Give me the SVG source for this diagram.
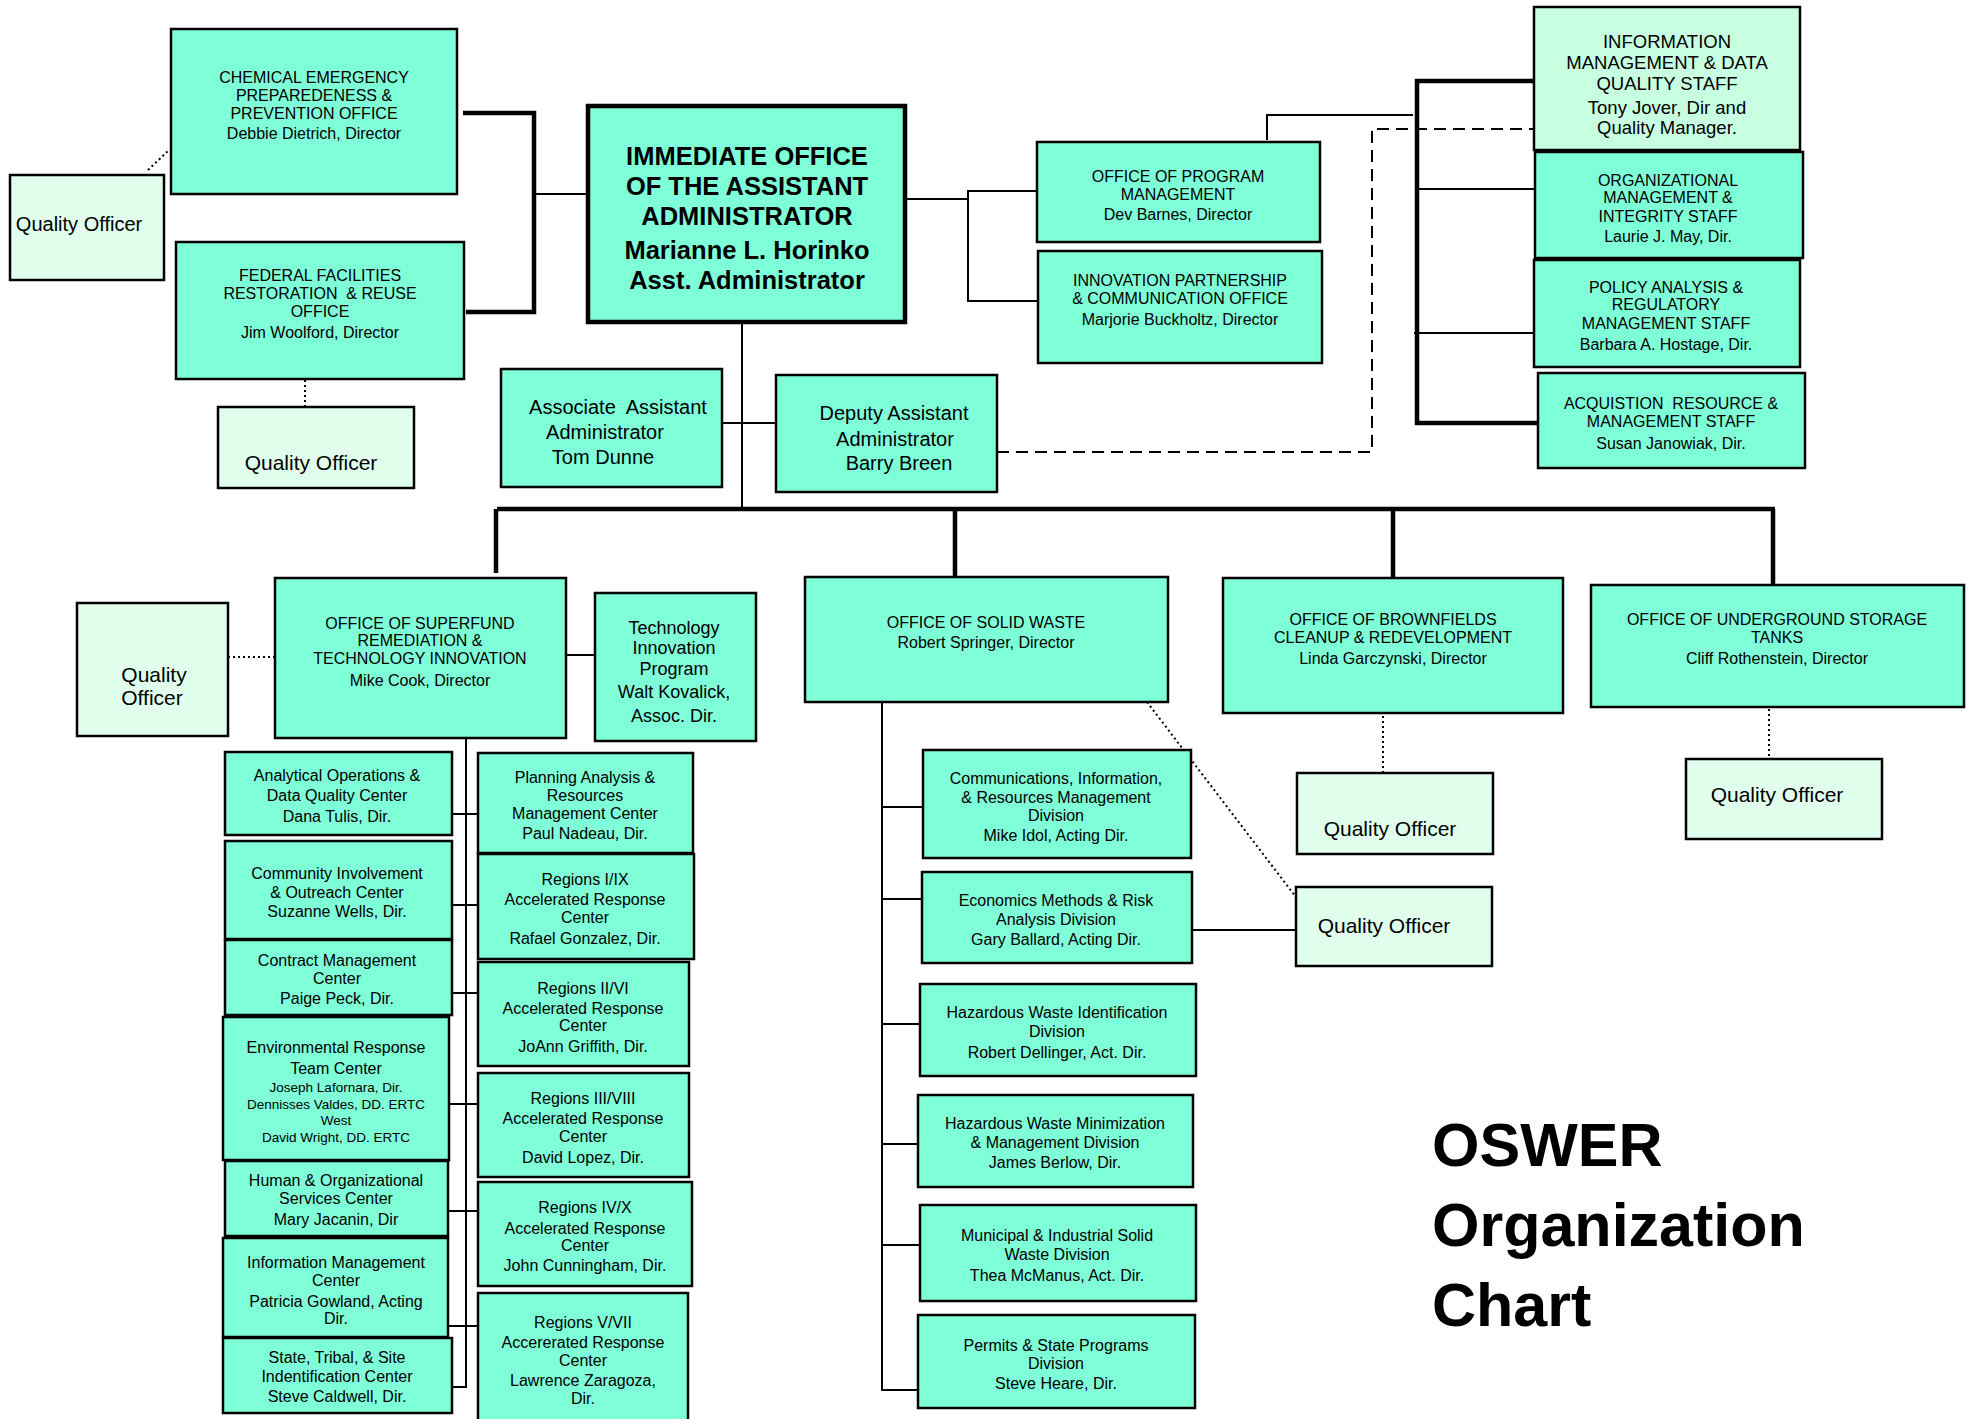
<svg xmlns="http://www.w3.org/2000/svg" width="1975" height="1419" viewBox="0 0 1975 1419">
<style>
.b{fill:#7FFFD8;stroke:#000;stroke-width:2.5}
.q{fill:#E0FFEC;stroke:#000;stroke-width:2.5}
.l{fill:#C8FFE0;stroke:#000;stroke-width:2.5}
text{font-family:"Liberation Sans",Arial,sans-serif;font-size:16px;text-anchor:middle;fill:#000}
.s{font-size:13.5px}
.m{font-size:18px}
.m2{font-size:18.5px}
.big{font-size:20px}
.qt{font-size:21px}
.io{font-size:25.5px;font-weight:bold}
.title{font-size:61px;font-weight:bold;text-anchor:start}
.k{stroke:#000;stroke-width:4.5;fill:none}
.n{stroke:#000;stroke-width:2;fill:none}
.d{stroke:#000;stroke-width:2;fill:none;stroke-dasharray:12 7}
.o{stroke:#000;stroke-width:2;fill:none;stroke-dasharray:2 3}
</style>
<rect width="1975" height="1419" fill="#fff"/>
<g id="connectors">
<path class="k" d="M463 113H534V312H466"/>
<path class="n" d="M534 194H588"/>
<path class="o" d="M148 170L168 151"/>
<path class="o" d="M305 380V407"/>
<path class="n" d="M905 199H968M968 190V302M968 191H1038M968 301H1038"/>
<path class="n" d="M1267 140V115H1413"/>
<path class="k" d="M1534 81H1417V423H1538"/>
<path class="n" d="M1417 189H1534M1414 333H1534"/>
<path class="d" d="M997 452H1372V129H1534"/>
<path class="n" d="M742 322V508M722 423H776"/>
<path class="k" d="M497 509H1775M496 509V573M955 509V578M1393 509V584M1773 509V586"/>
<path class="o" d="M228 657H275"/>
<path class="n" d="M566 655H595"/>
<path class="n" d="M466 735V1387H452M452 814H478M452 905H478M452 993H478M449 1104H478M448 1211H478M448 1326H478"/>
<path class="o" d="M1383 716V773M1769 709V759"/>
<path class="n" d="M882 702V1390H918M882 807H923M882 899H922M882 1024H920M882 1144H918M882 1245H920"/>
<path class="n" d="M1192 930H1297"/>
<path class="o" d="M1147 702L1302 905"/>
</g>
<g id="chem"><rect class="b" x="171" y="29" width="286" height="165"/><text x="314" y="82.5">CHEMICAL EMERGENCY</text><text x="314" y="100.5">PREPAREDENESS &amp;</text><text x="314" y="118.5">PREVENTION OFFICE</text><text x="314" y="138.5">Debbie Dietrich, Director</text></g>
<g id="qo1"><rect class="q" x="10" y="175" width="154" height="105"/><text class="big" x="79" y="231">Quality Officer</text></g>
<g id="fed"><rect class="b" x="176" y="242" width="288" height="137"/><text x="320" y="280.5">FEDERAL FACILITIES</text><text x="320" y="298.5" xml:space="preserve">RESTORATION  &amp; REUSE</text><text x="320" y="316.5">OFFICE</text><text x="320" y="337.5">Jim Woolford, Director</text></g>
<g id="qo2"><rect class="q" x="218" y="407" width="196" height="81"/><text class="qt" x="311" y="470">Quality Officer</text></g>
<g id="io"><rect fill="#7FFFD8" stroke="#000" stroke-width="4.5" x="588" y="106" width="317" height="216"/><text class="io" x="747" y="165">IMMEDIATE OFFICE</text><text class="io" x="747" y="195">OF THE ASSISTANT</text><text class="io" x="747" y="225">ADMINISTRATOR</text><text class="io" x="747" y="259">Marianne L. Horinko</text><text class="io" x="747" y="289">Asst. Administrator</text></g>
<g id="assoc"><rect class="b" x="501" y="369" width="221" height="118"/><text class="big" x="618" y="414" xml:space="preserve">Associate  Assistant</text><text class="big" x="605" y="439">Administrator</text><text class="big" x="603" y="464">Tom Dunne</text></g>
<g id="deputy"><rect class="b" x="776" y="375" width="221" height="117"/><text class="big" x="894" y="420">Deputy Assistant</text><text class="big" x="895" y="446">Administrator</text><text class="big" x="899" y="470">Barry Breen</text></g>
<g id="opm"><rect class="b" x="1037" y="142" width="283" height="100"/><text x="1178" y="181.5">OFFICE OF PROGRAM</text><text x="1178" y="199.5">MANAGEMENT</text><text x="1178" y="219.5">Dev Barnes, Director</text></g>
<g id="ipc"><rect class="b" x="1038" y="251" width="284" height="112"/><text x="1180" y="285.5">INNOVATION PARTNERSHIP</text><text x="1180" y="303.5">&amp; COMMUNICATION OFFICE</text><text x="1180" y="324.5">Marjorie Buckholtz, Director</text></g>
<g id="imdq"><rect class="l" x="1534" y="7" width="266" height="143"/><text class="m2" x="1667" y="47.5">INFORMATION</text><text class="m2" x="1667" y="68.5">MANAGEMENT &amp; DATA</text><text class="m2" x="1667" y="89.5">QUALITY STAFF</text><text class="m2" x="1667" y="113.5">Tony Jover, Dir and</text><text class="m2" x="1667" y="133.5">Quality Manager.</text></g>
<g id="org"><rect class="b" x="1535" y="152" width="268" height="106"/><text x="1668" y="185.5">ORGANIZATIONAL</text><text x="1668" y="202.5">MANAGEMENT &amp;</text><text x="1668" y="221.5">INTEGRITY STAFF</text><text x="1668" y="241.5">Laurie J. May, Dir.</text></g>
<g id="policy"><rect class="b" x="1534" y="260" width="266" height="107"/><text x="1666" y="292.5">POLICY ANALYSIS &amp;</text><text x="1666" y="309.5">REGULATORY</text><text x="1666" y="328.5">MANAGEMENT STAFF</text><text x="1666" y="349.5">Barbara A. Hostage, Dir.</text></g>
<g id="acq"><rect class="b" x="1538" y="373" width="267" height="95"/><text x="1671" y="408.5" xml:space="preserve">ACQUISTION  RESOURCE &amp;</text><text x="1671" y="426.5">MANAGEMENT STAFF</text><text x="1671" y="448.5">Susan Janowiak, Dir.</text></g>
<g id="superfund"><rect class="b" x="275" y="578" width="291" height="160"/><text x="420" y="628.5">OFFICE OF SUPERFUND</text><text x="420" y="645.5">REMEDIATION &amp;</text><text x="420" y="663.5">TECHNOLOGY INNOVATION</text><text x="420" y="685.5">Mike Cook, Director</text></g>
<g id="qo3"><rect class="q" x="77" y="603" width="151" height="133"/><text class="qt" x="154" y="681.5">Quality</text><text class="qt" x="152" y="704.5">Officer</text></g>
<g id="tip"><rect class="b" x="595" y="593" width="161" height="148"/><text class="m" x="674" y="633.5">Technology</text><text class="m" x="674" y="653.5">Innovation</text><text class="m" x="674" y="674.5">Program</text><text class="m" x="674" y="697.5">Walt Kovalick,</text><text class="m" x="674" y="721.5">Assoc. Dir.</text></g>
<g id="analytical"><rect class="b" x="225" y="752" width="227" height="83"/><text x="337" y="781">Analytical Operations &amp;</text><text x="337" y="801">Data Quality Center</text><text x="337" y="821.5">Dana Tulis, Dir.</text></g>
<g id="community"><rect class="b" x="225" y="841" width="227" height="98"/><text x="337" y="878.5">Community Involvement</text><text x="337" y="897.5">&amp; Outreach Center</text><text x="337" y="917">Suzanne Wells, Dir.</text></g>
<g id="contract"><rect class="b" x="225" y="940" width="227" height="75"/><text x="337" y="965.5">Contract Management</text><text x="337" y="983.5">Center</text><text x="337" y="1004">Paige Peck, Dir.</text></g>
<g id="ert"><rect class="b" x="223" y="1017" width="226" height="143"/><text x="336" y="1053">Environmental Response</text><text x="336" y="1073.5">Team Center</text><text class="s" x="336" y="1092">Joseph Lafornara, Dir.</text><text class="s" x="336" y="1109">Dennisses Valdes, DD. ERTC</text><text class="s" x="336" y="1125">West</text><text class="s" x="336" y="1142">David Wright, DD. ERTC</text></g>
<g id="human"><rect class="b" x="225" y="1161" width="223" height="75"/><text x="336" y="1186">Human &amp; Organizational</text><text x="336" y="1203.5">Services Center</text><text x="336" y="1224.5">Mary Jacanin, Dir</text></g>
<g id="infomgmt"><rect class="b" x="223" y="1238" width="225" height="99"/><text x="336" y="1267.5">Information Management</text><text x="336" y="1286">Center</text><text x="336" y="1306.5">Patricia Gowland, Acting</text><text x="336" y="1324">Dir.</text></g>
<g id="state"><rect class="b" x="223" y="1338" width="229" height="75"/><text x="337" y="1362.5">State, Tribal, &amp; Site</text><text x="337" y="1381.5">Indentification Center</text><text x="337" y="1401.5">Steve Caldwell, Dir.</text></g>
<g id="planning"><rect class="b" x="478" y="753" width="215" height="100"/><text x="585" y="782.5">Planning Analysis &amp;</text><text x="585" y="800.5">Resources</text><text x="585" y="818.5">Management Center</text><text x="585" y="838.5">Paul Nadeau, Dir.</text></g>
<g id="r1"><rect class="b" x="478" y="854" width="216" height="105"/><text x="585" y="885">Regions I/IX</text><text x="585" y="904.5">Accelerated Response</text><text x="585" y="923">Center</text><text x="585" y="943.5">Rafael Gonzalez, Dir.</text></g>
<g id="r2"><rect class="b" x="478" y="962" width="211" height="104"/><text x="583" y="993.5">Regions II/VI</text><text x="583" y="1013.5">Accelerated Response</text><text x="583" y="1030.5">Center</text><text x="583" y="1051.5">JoAnn Griffith, Dir.</text></g>
<g id="r3"><rect class="b" x="478" y="1073" width="211" height="104"/><text x="583" y="1103.5">Regions III/VIII</text><text x="583" y="1124">Accelerated Response</text><text x="583" y="1141.5">Center</text><text x="583" y="1162.5">David Lopez, Dir.</text></g>
<g id="r4"><rect class="b" x="478" y="1182" width="214" height="104"/><text x="585" y="1212.5">Regions IV/X</text><text x="585" y="1233.5">Accelerated Response</text><text x="585" y="1250.5">Center</text><text x="585" y="1270.5">John Cunningham, Dir.</text></g>
<g id="r5"><rect class="b" x="478" y="1293" width="210" height="135"/><text x="583" y="1327.5">Regions V/VII</text><text x="583" y="1347.5">Accererated Response</text><text x="583" y="1365.5">Center</text><text x="583" y="1385.5">Lawrence Zaragoza,</text><text x="583" y="1403.5">Dir.</text></g>
<g id="osw"><rect class="b" x="805" y="577" width="363" height="125"/><text x="986" y="627.5">OFFICE OF SOLID WASTE</text><text x="986" y="647.5">Robert Springer, Director</text></g>
<g id="brownfields"><rect class="b" x="1223" y="578" width="340" height="135"/><text x="1393" y="624.5">OFFICE OF BROWNFIELDS</text><text x="1393" y="642.5">CLEANUP &amp; REDEVELOPMENT</text><text x="1393" y="663.5">Linda Garczynski, Director</text></g>
<g id="ust"><rect class="b" x="1591" y="585" width="373" height="122"/><text x="1777" y="624.5">OFFICE OF UNDERGROUND STORAGE</text><text x="1777" y="642.5">TANKS</text><text x="1777" y="663.5">Cliff Rothenstein, Director</text></g>
<g id="qo4"><rect class="q" x="1297" y="773" width="196" height="81"/><text class="qt" x="1390" y="836">Quality Officer</text></g>
<g id="qo5"><rect class="q" x="1686" y="759" width="196" height="80"/><text class="qt" x="1777" y="802">Quality Officer</text></g>
<g id="qo6"><rect class="q" x="1296" y="887" width="196" height="79"/><text class="qt" x="1384" y="933">Quality Officer</text></g>
<g id="cirm"><rect class="b" x="923" y="750" width="268" height="108"/><text x="1056" y="783.5">Communications, Information,</text><text x="1056" y="802.5">&amp; Resources Management</text><text x="1056" y="820.5">Division</text><text x="1056" y="840.5">Mike Idol, Acting Dir.</text></g>
<g id="econ"><rect class="b" x="922" y="872" width="270" height="91"/><text x="1056" y="905.5">Economics Methods &amp; Risk</text><text x="1056" y="924.5">Analysis Division</text><text x="1056" y="944.5">Gary Ballard, Acting Dir.</text></g>
<g id="hwid"><rect class="b" x="920" y="984" width="276" height="92"/><text x="1057" y="1017.5">Hazardous Waste Identification</text><text x="1057" y="1036.5">Division</text><text x="1057" y="1057.5">Robert Dellinger, Act. Dir.</text></g>
<g id="hwmin"><rect class="b" x="918" y="1095" width="275" height="92"/><text x="1055" y="1128.5">Hazardous Waste Minimization</text><text x="1055" y="1147.5">&amp; Management Division</text><text x="1055" y="1167.5">James Berlow, Dir.</text></g>
<g id="municipal"><rect class="b" x="920" y="1205" width="276" height="96"/><text x="1057" y="1240.5">Municipal &amp; Industrial Solid</text><text x="1057" y="1259.5">Waste Division</text><text x="1057" y="1280.5">Thea McManus, Act. Dir.</text></g>
<g id="permits"><rect class="b" x="918" y="1315" width="277" height="93"/><text x="1056" y="1350.5">Permits &amp; State Programs</text><text x="1056" y="1368.5">Division</text><text x="1056" y="1388.5">Steve Heare, Dir.</text></g>
<g id="title"><text class="title" x="1432" y="1166">OSWER</text><text class="title" x="1432" y="1246">Organization</text><text class="title" x="1432" y="1326">Chart</text></g>
</svg>
